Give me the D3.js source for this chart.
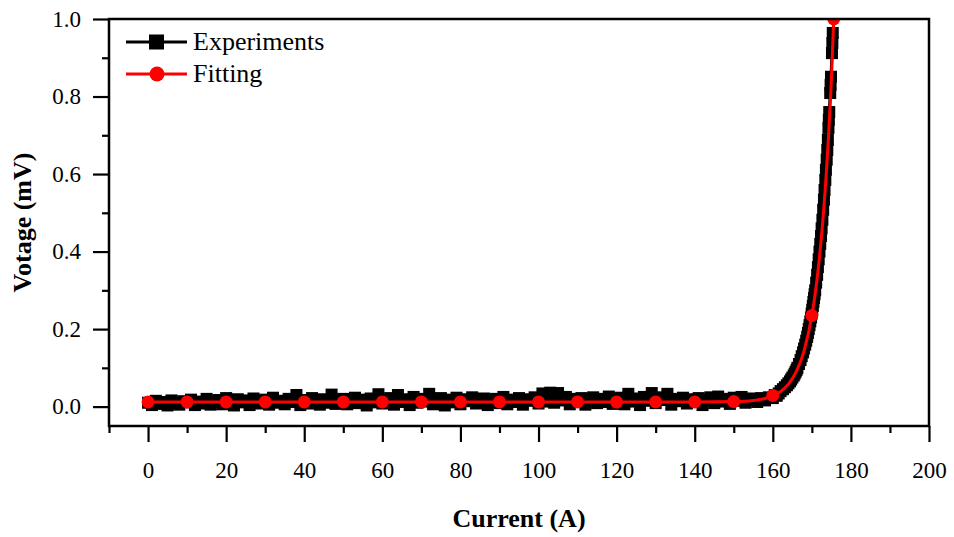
<!DOCTYPE html>
<html>
<head>
<meta charset="utf-8">
<script src="https://cdn.jsdelivr.net/npm/d3@7"></script>
<style>
	body { margin: 0; background: #fff; }
	svg { display: block; }
	text { font-family: "Liberation Serif", "Times New Roman", serif; fill: #000; }
</style>
</head>
<body>
<div id="chart-area"></div>
<script>

// Experiments: flat part, one reading per ampere from 0 A to 154 A (mV)
var expFlatV = [
	0.010, 0.004, 0.015, 0.007, 0.012, 0.003, 0.016, 0.009, 0.005, 0.014,
	0.011, 0.018, 0.004, 0.013, 0.008, 0.020, 0.005, 0.012, 0.017, 0.006,
	0.022, 0.009, 0.003, 0.019, 0.011, 0.016, 0.004, 0.021, 0.008, 0.014,
	0.018, 0.005, 0.023, 0.010, 0.015, 0.006, 0.020, 0.012, 0.030, 0.004,
	0.017, 0.008, 0.022, 0.013, 0.005, 0.019, 0.010, 0.031, 0.007, 0.016,
	0.020, 0.006, 0.014, 0.023, 0.009, 0.018, 0.003, 0.021, 0.011, 0.032,
	0.008, 0.017, 0.022, 0.005, 0.030, 0.012, 0.019, 0.004, 0.025, 0.010,
	0.020, 0.013, 0.033, 0.006, 0.015, 0.022, 0.003, 0.018, 0.011, 0.023,
	0.006, 0.019, 0.014, 0.024, 0.008, 0.017, 0.021, 0.004, 0.013, 0.020,
	0.009, 0.025, 0.006, 0.018, 0.012, 0.022, 0.005, 0.019, 0.015, 0.024,
	0.008, 0.034, 0.013, 0.036, 0.010, 0.035, 0.016, 0.025, 0.006, 0.020,
	0.014, 0.022, 0.005, 0.018, 0.024, 0.009, 0.020, 0.012, 0.026, 0.007,
	0.019, 0.023, 0.006, 0.033, 0.013, 0.021, 0.004, 0.025, 0.015, 0.035,
	0.009, 0.024, 0.017, 0.033, 0.005, 0.020, 0.014, 0.023, 0.008, 0.019,
	0.012, 0.022, 0.004, 0.017, 0.024, 0.009, 0.026, 0.013, 0.020, 0.007,
	0.023, 0.015, 0.025, 0.010, 0.021
];

// Experiments: the knee and the steep rise
var expRiseI = [155, 156, 157, 158, 159, 160, 160.5, 161, 161.5,
	162.0, 162.6, 163.1, 163.6, 164.0, 164.4, 164.7, 165.0, 165.35, 165.6,
	165.85, 166.1, 166.3, 166.7, 167.1, 167.4, 167.75, 168.0, 168.3, 168.55,
	168.8, 169.0, 169.2, 169.4, 169.6, 169.8, 169.95, 170.1, 170.25, 170.4,
	170.55, 170.7, 170.85, 171.1, 171.35, 171.55, 171.75, 171.95, 172.15, 172.35,
	172.5, 172.7, 172.9, 173.1, 173.25, 173.45, 173.6, 173.8, 173.95, 174.1,
	174.25, 174.35, 174.45, 174.7, 174.8, 174.9, 175.15, 175.25, 175.35];
var expRiseV = [0.018, 0.012, 0.022, 0.016, 0.024, 0.022, 0.030, 0.028, 0.034,
	0.040, 0.045, 0.050, 0.055, 0.060, 0.065, 0.070, 0.075, 0.080, 0.085,
	0.090, 0.095, 0.100, 0.110, 0.120, 0.130, 0.140, 0.150, 0.160, 0.170,
	0.180, 0.190, 0.200, 0.210, 0.220, 0.230, 0.240, 0.250, 0.260, 0.270,
	0.280, 0.290, 0.300, 0.320, 0.340, 0.360, 0.380, 0.400, 0.420, 0.440,
	0.460, 0.482, 0.508, 0.534, 0.559, 0.585, 0.611, 0.637, 0.662, 0.688,
	0.719, 0.740, 0.760, 0.809, 0.830, 0.851, 0.912, 0.938, 0.964];

// Fitting curve
var fitI = [0, 10, 20, 30, 40, 50, 60, 70, 80, 90, 100, 110, 120, 130, 140, 150,
	155, 158, 160, 162, 164, 166, 168, 170, 171, 172, 173, 174, 175, 175.6];
var fitV = [0.012, 0.012, 0.012, 0.012, 0.012, 0.012, 0.012, 0.012, 0.012, 0.012,
	0.012, 0.012, 0.012, 0.012, 0.012, 0.013, 0.016, 0.021, 0.029, 0.039,
	0.058, 0.090, 0.144, 0.235, 0.302, 0.390, 0.503, 0.651, 0.843, 1.0];
// fitting points that carry a marker
var fitMarkI = [0, 10, 20, 30, 40, 50, 60, 70, 80, 90, 100, 110, 120, 130, 140, 150, 160, 170, 175.6];

var xTicks = [0, 20, 40, 60, 80, 100, 120, 140, 160, 180, 200];
var xMinor = [-10, 10, 30, 50, 70, 90, 110, 130, 150, 170, 190];
var yTicks = [0.0, 0.2, 0.4, 0.6, 0.8, 1.0];
var yMinor = [0.1, 0.3, 0.5, 0.7, 0.9];

var legendNames = ["Experiments", "Fitting"];

var width = 954,
	height = 537;
var margin = {top: 19, right: 25, bottom: 111, left: 109};
var w = width - margin.left - margin.right,
	h = height - margin.top - margin.bottom;
var serif = "'Liberation Serif', 'Times New Roman', serif";

var expData = expFlatV.map(function(v, i) { return {I: i, V: v}; })
	.concat(expRiseI.map(function(c, i) { return {I: c, V: expRiseV[i]}; }));
var fitData = fitI.map(function(c, i) { return {I: c, V: fitV[i]}; });
var fitMarks = fitData.filter(function(d) { return fitMarkI.includes(d.I); });

var svg = d3.select("#chart-area").append("svg")
	.attr("width", width)
	.attr("height", height);

var g = svg.append("g")
	.attr("transform", "translate(" + margin.left + "," + margin.top + ")");

var x = d3.scaleLinear().domain([-10, 200]).range([0, w]);
var y = d3.scaleLinear().domain([-0.05, 1.0]).range([h, 0]);

g.append("clipPath").attr("id", "clip")
	.append("rect").attr("width", w).attr("height", h);

var plot = g.append("g").attr("clip-path", "url(#clip)");

// experiments: line + squares
plot.append("path")
	.datum(expData)
	.attr("fill", "none")
	.attr("stroke", "#000")
	.attr("stroke-width", 3)
	.attr("d", d3.line().x(d => x(d.I)).y(d => y(d.V)));

var sq = 12;
plot.selectAll("rect.exp")
	.data(expData)
	.enter()
	.append("rect")
	.attr("class", "exp")
	.attr("x", d => x(d.I) - sq / 2)
	.attr("y", d => y(d.V) - sq / 2)
	.attr("width", sq)
	.attr("height", sq)
	.attr("fill", "#000");

// fitting: line + circles
plot.append("path")
	.datum(fitData)
	.attr("fill", "none")
	.attr("stroke", "#ff0000")
	.attr("stroke-width", 3)
	.attr("d", d3.line().x(d => x(d.I)).y(d => y(d.V)).curve(d3.curveMonotoneX));

plot.selectAll("circle.fit")
	.data(fitMarks)
	.enter()
	.append("circle")
	.attr("class", "fit")
	.attr("cx", d => x(d.I))
	.attr("cy", d => y(d.V))
	.attr("r", 6.5)
	.attr("fill", "#ff0000");

// axes
var xAxis = d3.axisBottom(x).tickValues(xTicks).tickSize(16).tickPadding(20)
	.tickFormat(d3.format("d"));
var xAxisMinor = d3.axisBottom(x).tickValues(xMinor).tickSize(7).tickFormat("");
var yAxis = d3.axisLeft(y).tickValues(yTicks).tickSize(16).tickPadding(12)
	.tickFormat(d3.format(".1f"));
var yAxisMinor = d3.axisLeft(y).tickValues(yMinor).tickSize(7).tickFormat("");

var axes = [
	g.append("g").attr("transform", "translate(0," + h + ")").call(xAxis),
	g.append("g").attr("transform", "translate(0," + h + ")").call(xAxisMinor),
	g.append("g").call(yAxis),
	g.append("g").call(yAxisMinor)
];
axes.forEach(function(a) {
	a.attr("font-family", serif);
	a.select(".domain").remove();
	a.selectAll(".tick line").attr("stroke", "#000").attr("stroke-width", 2.2);
	a.selectAll(".tick text")
		.attr("font-size", 23)
		.attr("fill", "#000");
});

// frame
g.append("rect")
	.attr("width", w)
	.attr("height", h)
	.attr("fill", "none")
	.attr("stroke", "#000")
	.attr("stroke-width", 2.5);

// axis labels
svg.append("text")
	.attr("x", margin.left + w / 2)
	.attr("y", 527)
	.attr("text-anchor", "middle")
	.attr("font-size", 26)
	.attr("font-weight", "bold")
	.text("Current (A)");

svg.append("text")
	.attr("transform", "translate(31," + (margin.top + h / 2) + ") rotate(-90)")
	.attr("text-anchor", "middle")
	.attr("font-size", 26)
	.attr("font-weight", "bold")
	.text("Votage (mV)");

// legend
var legend = svg.append("g").attr("transform", "translate(126,42)");
legendNames.forEach(function(name, i) {
	var row = legend.append("g").attr("transform", "translate(0," + (i * 32) + ")");
	var col = i === 0 ? "#000" : "#ff0000";
	row.append("line")
		.attr("x1", 0).attr("x2", 61)
		.attr("stroke", col).attr("stroke-width", 3);
	if (i === 0) {
		row.append("rect").attr("x", 23).attr("y", -7.5)
			.attr("width", 15).attr("height", 15).attr("fill", col);
	} else {
		row.append("circle").attr("cx", 31).attr("r", 7.5).attr("fill", col);
	}
	row.append("text")
		.attr("x", 67)
		.attr("y", 8)
		.attr("font-size", 26)
		.text(name);
});

</script>
</body>
</html>
